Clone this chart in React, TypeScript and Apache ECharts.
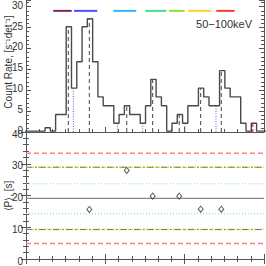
import React, { useEffect, useRef } from "react";
import * as echarts from "echarts";

// Histogram: 4 s bins, first bin starts at t = -1.6 s
const binWidth = 4;
const firstBinStart = -1.6;
const countRate = [
  0.2, 0.2, 0.2, 0.2, 1.0, 0.2, 4.2, 4.2, 25.2, 10.5, 16.8, 25.2, 27.1, 16.8,
  8.4, 6.3, 6.3, 2.1, 4.2, 6.3, 4.2, 4.2, 2.1, 6.3, 12.6, 8.4, 6.3, 0.2, 2.1,
  4.2, 2.1, 6.3, 6.3, 10.5, 8.4, 6.3, 6.3, 14.7, 10.5, 8.4, 8.4, 2.1, 0.2, 2.1,
  0.2, 0.2,
];

// Peaks (dashed black) and minima (dotted blue)
const peakTimes = [32.0, 47.9, 76.2, 95.8, 115.9, 132.1, 147.7];
const peakHeights = [25.2, 27.1, 6.3, 12.6, 4.2, 10.5, 14.7];
const minTimes = [13.1, 20.6, 35.8, 69.1, 88.3, 107.6, 120.3, 143.7, 168.5];
const minHeights = [0.2, 0.2, 10.5, 2.1, 2.1, 0.2, 2.1, 6.3, 0.2];
const lastPeakTime = 171.5;
const lastPeakHeight = 2.1;

// Coloured segments at the top
const segStart = [20.6, 36.3, 66.0, 90.2, 108.2, 122.5, 143.9];
const segEnd = [34.6, 53.9, 83.4, 106.1, 120.0, 140.1, 157.8];
const segColors = ["#7a2a68", "#5050ff", "#30b4ff", "#40e088", "#90e030", "#ffd030", "#ff3838"];
const segLevel = 29.0;

// Period panel
const periodTimes = [47.9, 76.2, 95.8, 115.9, 132.1, 147.7];
const periodValues = [15.6, 27.9, 19.8, 19.8, 15.7, 15.7];
const meanP = 19.1;
const sigma1 = [23.7, 14.3];
const sigma2 = [28.9, 9.3];
const sigma3 = [33.3, 4.9];

const topTicks = [0, 5, 10, 15, 20, 25, 30];
const bottomTicks = [0, 10, 20, 30, 40];

const AX = "#555555";
const FONT = "Liberation Sans, Arial, sans-serif";

export default function App() {
  const ref = useRef<HTMLDivElement>(null);
  useEffect(() => {
    if (!ref.current) return;
    const chart = echarts.init(ref.current, null, { renderer: "svg" });

    const hist: any[] = countRate.map((v, i) => [firstBinStart + i * binWidth, v]);
    hist.push([firstBinStart + countRate.length * binWidth, countRate[countRate.length - 1]]);

    const series: any[] = [];
    series.push({
      type: "line",
      xAxisIndex: 0,
      yAxisIndex: 0,
      data: hist,
      step: "end",
      symbol: "none",
      lineStyle: { color: "#4a4a4a", width: 1.4 },
      z: 5,
    });
    const vline = (t: number, h: number, color: string, type: any, w: number) => ({
      type: "line",
      xAxisIndex: 0,
      yAxisIndex: 0,
      data: [
        [t, 0],
        [t, h],
      ],
      symbol: "none",
      lineStyle: { color, type, width: w },
      z: 3,
    });
    peakTimes.forEach((t, i) => series.push(vline(t, peakHeights[i], "#444444", [4, 3], 1)));
    minTimes.forEach((t, i) => series.push(vline(t, minHeights[i], "#5a5aff", [1, 1.5], 1)));
    series.push(vline(lastPeakTime, lastPeakHeight, "#ff2020", [3, 2], 1.2));

    segStart.forEach((s, i) =>
      series.push({
        type: "line",
        xAxisIndex: 0,
        yAxisIndex: 0,
        data: [
          [s, segLevel],
          [segEnd[i], segLevel],
        ],
        symbol: "none",
        lineStyle: { color: segColors[i], width: 2 },
      })
    );

    const hline = (y: number, color: string, type: any, w: number, z = 2) => ({
      type: "line",
      xAxisIndex: 1,
      yAxisIndex: 2,
      data: [
        [0, y],
        [180, y],
      ],
      symbol: "none",
      lineStyle: { color, type, width: w },
      z,
    });
    series.push(hline(meanP, "#888888", "solid", 1.2));
    sigma1.forEach((y) => series.push(hline(y, "#88ee88", [1, 2], 1.2)));
    sigma2.forEach((y) => {
      series.push(hline(y, "#e0e030", [2, 1], 1.5, 2));
      series.push(hline(y, "#777777", [6, 3, 1.5, 3], 1, 3));
    });
    sigma3.forEach((y) => series.push(hline(y, "#ff8080", [5, 3], 1.4)));

    series.push({
      type: "scatter",
      xAxisIndex: 1,
      yAxisIndex: 2,
      data: periodTimes.map((t, i) => [t, periodValues[i]]),
      symbol: "diamond",
      symbolSize: [5, 6],
      itemStyle: { color: "#ffffff", borderColor: "#333333", borderWidth: 1 },
      z: 6,
    });

    const xCommon = {
      type: "value",
      min: 0,
      max: 180,
      interval: 60,
      axisLine: { show: true, lineStyle: { color: AX, width: 1 } },
      axisTick: { show: true, inside: true, length: 5, lineStyle: { color: AX } },
      minorTick: { show: true, splitNumber: 6, length: 3, lineStyle: { color: AX } },
      axisLabel: { show: false },
      splitLine: { show: false },
    };
    const yCommon = (
      max: number,
      interval: number,
      minorSplit: number,
      labels: boolean,
      ticks: number[],
      pad: number[]
    ) => ({
      type: "value",
      min: 0,
      max,
      interval,
      axisLine: { show: true, lineStyle: { color: AX, width: 1 } },
      axisTick: { show: true, inside: true, length: 5, lineStyle: { color: AX } },
      minorTick: { show: true, splitNumber: minorSplit, length: 3, lineStyle: { color: AX } },
      axisLabel: {
        show: labels,
        color: "#333333",
        fontSize: 10,
        fontFamily: FONT,
        margin: 3,
        hideOverlap: false,
        showMaxLabel: true,
        showMinLabel: true,
        formatter: (v: number) =>
          ticks.indexOf(Math.round(v * 100) / 100) >= 0 ? "{p|" + String(v) + "}" : "",
        rich: {
          p: { fontSize: 10, fontFamily: FONT, color: "#333333", padding: pad },
        },
      },
      splitLine: { show: false },
    });

    chart.setOption({
      animation: false,
      backgroundColor: "#ffffff",
      grid: [
        { left: 26, width: 238, top: 0, height: 132 },
        { left: 26, width: 238, top: 132, height: 129.5 },
      ],
      xAxis: [
        { ...xCommon, gridIndex: 0, position: "bottom" },
        { ...xCommon, gridIndex: 1, position: "bottom" },
        { ...xCommon, gridIndex: 1, position: "top" },
      ],
      yAxis: [
        { ...yCommon(31.6, 5, 5, true, topTicks, [0, 0, 3, 0]), gridIndex: 0, position: "left" },
        { ...yCommon(31.6, 5, 5, false, topTicks, [0, 0, 0, 0]), gridIndex: 0, position: "right" },
        { ...yCommon(40, 10, 5, true, bottomTicks, [4, 0, 0, 0]), gridIndex: 1, position: "left" },
        { ...yCommon(40, 10, 5, false, bottomTicks, [0, 0, 0, 0]), gridIndex: 1, position: "right" },
      ],
      graphic: [
        {
          type: "text",
          x: 252,
          y: 24,
          style: {
            text: "50\u2212100keV",
            fill: "#333333",
            fontSize: 11,
            fontFamily: FONT,
            align: "right",
            verticalAlign: "middle",
          },
        },
        {
          type: "text",
          x: 8,
          y: 62,
          rotation: Math.PI / 2,
          style: {
            text: "Count Rate, [s\u207B\u00B9det\u207B\u00B9]",
            fill: "#333333",
            fontSize: 10,
            fontFamily: FONT,
            align: "center",
            verticalAlign: "middle",
          },
        },
        {
          type: "text",
          x: 8,
          y: 196,
          rotation: Math.PI / 2,
          style: {
            text: "\u27E8P\u27E9, [s]",
            fill: "#333333",
            fontSize: 10,
            fontFamily: FONT,
            align: "center",
            verticalAlign: "middle",
          },
        },
      ],
      series,
    });
    return () => chart.dispose();
  }, []);
  return (
    <div
      ref={ref}
      style={{ position: "fixed", left: 0, top: 0, width: 266, height: 266, background: "#fff" }}
    />
  );
}
